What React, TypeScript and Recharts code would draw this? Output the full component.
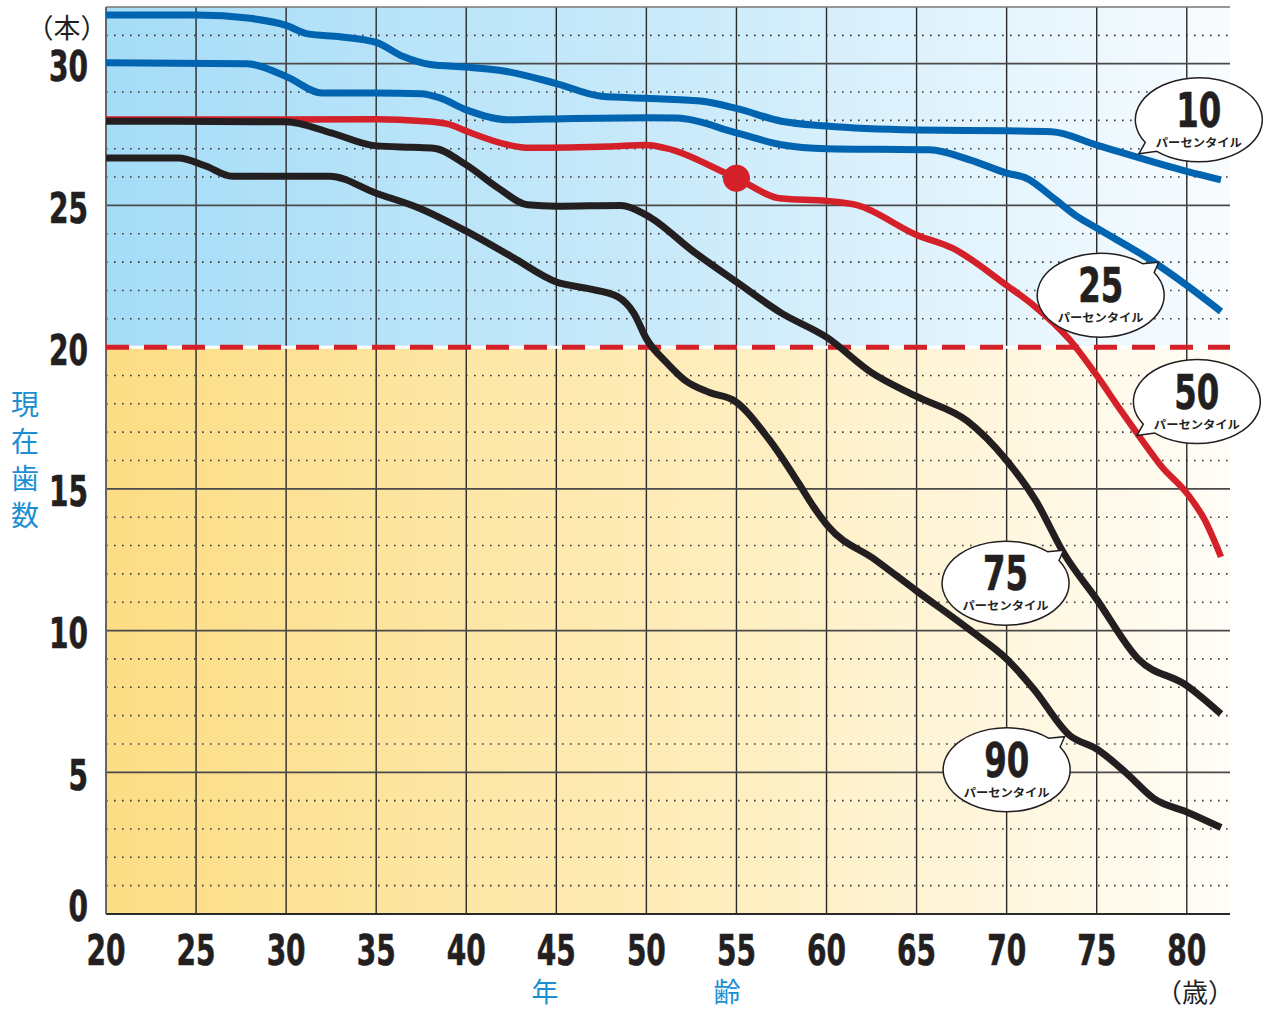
import React from 'react'
import {
  LineChart,
  Line,
  XAxis,
  YAxis,
  ReferenceArea,
  ReferenceLine,
  ReferenceDot,
} from 'recharts'

// age (years) on x, remaining teeth on y
const xTicks = [20, 25, 30, 35, 40, 45, 50, 55, 60, 65, 70, 75, 80]
const yTicks = [0, 5, 10, 15, 20, 25, 30]
const yMinor = [1, 2, 3, 4, 6, 7, 8, 9, 11, 12, 13, 14, 16, 17, 18, 19, 21, 22, 23, 24, 26, 27, 28, 29, 31]

const p10 = [
  [20, 31.72], [25, 31.72], [28, 31.6], [30, 31.35], [31.2, 31.05], [33, 30.95], [35, 30.75],
  [36.5, 30.25], [38, 29.97], [40, 29.88], [42, 29.75], [45, 29.3], [47.5, 28.85], [50, 28.78],
  [53, 28.68], [55, 28.42], [57.5, 27.97], [60, 27.8], [65, 27.66], [70, 27.63], [72.5, 27.6],
  [75, 27.13], [80, 26.2], [81.9, 25.9],
]
const p25 = [
  [20, 30.03], [27.8, 30.0], [30, 29.55], [32, 28.97], [35, 28.97], [37.5, 28.94], [38.5, 28.8],
  [40, 28.37], [42.3, 28.02], [46, 28.07], [50, 28.09], [51.7, 28.08], [55, 27.56], [57.5, 27.14],
  [60, 27.0], [65.7, 26.96], [68, 26.6], [70, 26.14], [71.1, 25.96], [72.6, 25.26], [73.8, 24.66],
  [75, 24.2], [78.1, 23.03], [80, 22.18], [81.9, 21.26],
]
const p50 = [
  [20, 28.03], [30, 28.03], [35, 28.04], [37.5, 27.98], [39, 27.87], [40, 27.62], [42.3, 27.14],
  [43.5, 27.03], [48, 27.08], [50, 27.13], [51, 27.03], [55, 25.96], [57.5, 25.24], [60, 25.16],
  [61.7, 25.01], [65, 23.96], [67, 23.49], [70, 22.18], [71.5, 21.47], [73.5, 20.26], [75, 19.0],
  [76.3, 17.8], [77.5, 16.73], [78.6, 15.79], [80, 14.85], [81, 13.9], [81.9, 12.6],
]
const p75 = [
  [20, 27.97], [30, 27.95], [32.5, 27.56], [35, 27.1], [37, 27.05], [38.2, 27.02], [40, 26.43],
  [41.8, 25.6], [43.4, 25.02], [45, 24.97], [48.6, 25.0], [50, 24.66], [52.6, 23.38], [55, 22.3],
  [57.5, 21.2], [60, 20.35], [62.5, 19.1], [65, 18.26], [67.8, 17.4], [70, 16.0], [71.6, 14.6],
  [73.2, 12.7], [75, 11.1], [77.3, 9.0], [80, 8.06], [81.9, 7.06],
]
const p90 = [
  [20, 26.67], [24, 26.67], [25.5, 26.4], [27, 26.03], [32.4, 26.03], [35, 25.43], [37.4, 24.9],
  [40, 24.09], [42.5, 23.2], [45, 22.3], [46.7, 22.07], [48.4, 21.78], [49.3, 21.2], [50, 20.3],
  [51.2, 19.4], [52.1, 18.85], [53.5, 18.4], [54.9, 18.1], [56.8, 16.75], [58.45, 15.2],
  [59.3, 14.35], [60.1, 13.67], [62.7, 12.5], [65, 11.4], [68, 10.0], [70, 9.0], [71.5, 7.94],
  [73.5, 6.3], [75, 5.82], [76.6, 5.0], [78.2, 4.06], [80, 3.6], [81.9, 3.05],
]

// highlighted person: 55 years old, 26 teeth
const marker = { age: 55, teeth: 25.96 }

const callouts = [
  { label: '10', age: 80.67, teeth: 28.02, tail: 'sw' },
  { label: '25', age: 75.22, teeth: 21.83, tail: 'ne' },
  { label: '50', age: 80.56, teeth: 18.08, tail: 'sw' },
  { label: '75', age: 69.94, teeth: 11.67, tail: 'ne' },
  { label: '90', age: 70.0, teeth: 5.09, tail: 'ne' },
]

const toRows = (pts: number[][]) => pts.map(([age, teeth]) => ({ age, teeth }))

const BLUE = '#0064b0'
const RED = '#d42029'
const BLACK = '#231f20'
const TITLE_BLUE = '#1b8fd2'
const NUM_FONT = "'DejaVu Sans Condensed', 'DejaVu Sans', sans-serif"
const JP_FONT = "'Noto Sans CJK JP', sans-serif"

const Num = ({ x, y, value, size, digitW, anchor }: any) => {
  const s = String(value)
  return (
    <text x={x} y={y} textAnchor={anchor} fontFamily={NUM_FONT} fontWeight={700} fontSize={size}
      fill={BLACK} stroke={BLACK} strokeWidth={0.6} textLength={digitW * s.length}
      lengthAdjust="spacingAndGlyphs">
      {s}
    </text>
  )
}

const XTick = ({ x, payload }: any) => (
  <Num x={x} y={965} value={payload.value} size={43} digitW={19.5} anchor="middle" />
)

const YTick = ({ y, payload }: any) => {
  const shift = payload.value === 0 ? -9 : 2
  return <Num x={88} y={y + shift + 15.5} value={payload.value} size={43} digitW={19.5} anchor="end" />
}

const Bubble = ({ cx, cy, label, tail }: any) => {
  const rx = 63.5
  const ry = 42
  const dx = tail === 'sw' ? -60 : 58
  const dy = tail === 'sw' ? 34 : -33
  const t0 = Math.atan2(dy / ry, dx / rx)
  const d = 0.14
  const a1 = t0 + d
  const a2 = t0 - d
  const p1 = [cx + rx * Math.cos(a1), cy + ry * Math.sin(a1)]
  const p2 = [cx + rx * Math.cos(a2), cy + ry * Math.sin(a2)]
  const path = `M${p1[0]},${p1[1]} A${rx},${ry} 0 1 1 ${p2[0]},${p2[1]} L${cx + dx},${cy + dy} Z`
  return (
    <g>
      <path d={path} fill="#fff" stroke={BLACK} strokeWidth={1.5} strokeLinejoin="miter" />
      <Num x={cx} y={cy + 7} value={label} size={48} digitW={22.5} anchor="middle" />
      <text x={cx} y={cy + 27} textAnchor="middle" fontFamily={JP_FONT} fontWeight={700}
        fontSize={11.5} fill={BLACK} textLength={86} lengthAdjust="spacingAndGlyphs">
        パーセンタイル
      </text>
    </g>
  )
}

export default function App() {
  return (
    <div style={{ position: 'absolute', left: 0, top: 0, width: 1263, height: 1010, background: '#fff' }}>
      <LineChart width={1263} height={1010} margin={{ top: 7, right: 33, bottom: 36, left: 0 }}>
        <defs>
          <linearGradient id="blueBg" x1="0" y1="0" x2="1" y2="0">
            <stop offset="0%" stopColor="#a5dcf7" />
            <stop offset="50%" stopColor="#c9eafa" />
            <stop offset="100%" stopColor="#f8fcff" />
          </linearGradient>
          <linearGradient id="yellowBg" x1="0" y1="0" x2="1" y2="0">
            <stop offset="0%" stopColor="#fcdd84" />
            <stop offset="50%" stopColor="#feecb8" />
            <stop offset="100%" stopColor="#fffdf7" />
          </linearGradient>
        </defs>
        <XAxis type="number" dataKey="age" domain={[20, 82.4]} ticks={xTicks} interval={0}
          tickLine={false} axisLine={false} height={60} tick={(p: any) => <XTick {...p} />} />
        <YAxis type="number" domain={[0, 32]} ticks={yTicks} interval={0} width={106}
          tickLine={false} axisLine={false} tick={(p: any) => <YTick {...p} />} />

        <ReferenceArea x1={20} x2={82.4} y1={0} y2={20} fill="url(#yellowBg)" fillOpacity={1} stroke="none" />
        <ReferenceArea x1={20} x2={82.4} y1={20} y2={32} fill="url(#blueBg)" fillOpacity={1} stroke="none" />

        {yMinor.map((v) => (
          <ReferenceLine key={`m${v}`} y={v} stroke="#3a3a3a" strokeWidth={1.6} strokeDasharray="1.6 6.4" />
        ))}
        {xTicks.slice(1).map((v) => (
          <ReferenceLine key={`v${v}`} x={v} stroke="#2a2a2a" strokeWidth={1.4} />
        ))}
        {yTicks.map((v) => (
          <ReferenceLine key={`h${v}`} y={v} stroke={v === 0 ? '#2a2a2a' : '#4a4a4a'} strokeWidth={1.8} />
        ))}
        <ReferenceLine x={20} stroke="#666" strokeWidth={2} />
        <ReferenceLine y={32} stroke="#777" strokeWidth={1.5} />
        <ReferenceLine y={20} stroke="#fff" strokeWidth={3} />
        <ReferenceLine y={20} stroke={RED} strokeWidth={5} strokeDasharray="23 15" />

        <Line data={toRows(p10)} dataKey="teeth" type="monotone" stroke={BLUE} strokeWidth={7}
          dot={false} activeDot={false} isAnimationActive={false} />
        <Line data={toRows(p25)} dataKey="teeth" type="monotone" stroke={BLUE} strokeWidth={7}
          dot={false} activeDot={false} isAnimationActive={false} />
        <Line data={toRows(p50)} dataKey="teeth" type="monotone" stroke={RED} strokeWidth={6.5}
          dot={false} activeDot={false} isAnimationActive={false} />
        <Line data={toRows(p75)} dataKey="teeth" type="monotone" stroke={BLACK} strokeWidth={7}
          dot={false} activeDot={false} isAnimationActive={false} />
        <Line data={toRows(p90)} dataKey="teeth" type="monotone" stroke={BLACK} strokeWidth={7}
          dot={false} activeDot={false} isAnimationActive={false} />

        <ReferenceDot x={marker.age} y={marker.teeth} r={13.5} fill={RED} stroke="none" />
        {callouts.map((c) => (
          <ReferenceDot key={c.label} x={c.age} y={c.teeth} r={1}
            shape={(p: any) => <Bubble cx={p.cx} cy={p.cy} label={c.label} tail={c.tail} />} />
        ))}
      </LineChart>

      <svg width={1263} height={1010} style={{ position: 'absolute', left: 0, top: 0, pointerEvents: 'none' }}>
        <text x={67} y={38} textAnchor="middle" fontFamily={JP_FONT} fontSize={27} fill={BLACK}>（本）</text>
        {['現', '在', '歯', '数'].map((ch, i) => (
          <text key={ch} x={25} y={403 + i * 37} textAnchor="middle" dominantBaseline="central"
            fontFamily={JP_FONT} fontSize={28} fill={TITLE_BLUE}>
            {ch}
          </text>
        ))}
        <text x={545} y={990} textAnchor="middle" dominantBaseline="central" fontFamily={JP_FONT}
          fontSize={27} fill={TITLE_BLUE}>年</text>
        <text x={727} y={990} textAnchor="middle" dominantBaseline="central" fontFamily={JP_FONT}
          fontSize={27} fill={TITLE_BLUE}>齢</text>
        <text x={1195} y={990} textAnchor="middle" dominantBaseline="central" fontFamily={JP_FONT}
          fontSize={26} fill={BLACK}>（歳）</text>
      </svg>
    </div>
  )
}
